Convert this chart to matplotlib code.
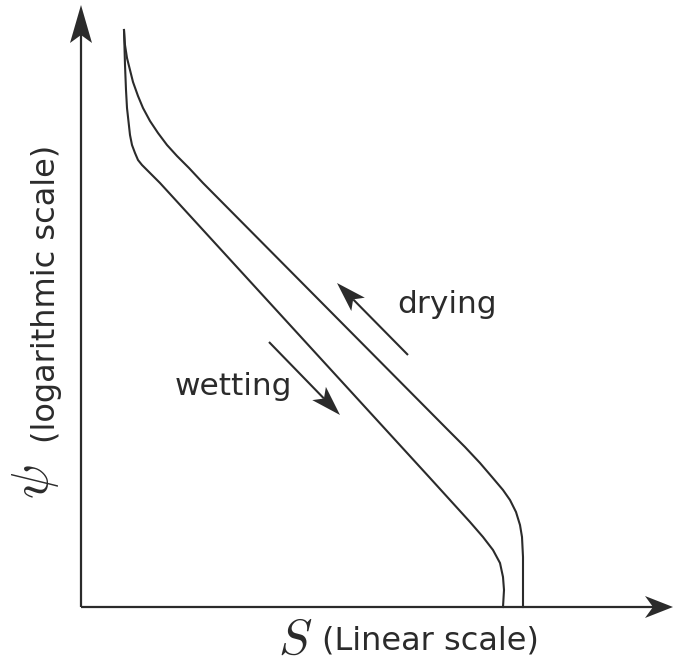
import numpy as np
import matplotlib
matplotlib.use("Agg")
import matplotlib.pyplot as plt
from matplotlib.patches import Polygon

# Schematic water retention curves (units: pixels from the axes origin, psi upwards).
drying_S   = [43, 44, 46, 49, 52, 57, 62, 69, 77, 86, 96, 108, 122, 367, 384, 399, 411, 422, 429, 435, 439, 441, 442, 442]
drying_psi = [577, 562, 549, 537, 525, 511, 499, 486, 474, 462, 451, 439, 424, 177, 160, 144, 130, 117, 107, 95, 82, 70, 50, 0]

wetting_S   = [43, 44, 45, 46, 49, 51, 54, 57, 61, 67, 79, 349, 369, 389, 402, 412, 419, 422, 423, 422]
wetting_psi = [577, 542, 517, 499, 472, 462, 454, 447, 442, 436, 424, 129, 107, 85, 70, 57, 44, 30, 17, 0]

# direction arrows (tail, tip)
drying_arrow  = [(327, 252), (256, 324)]
wetting_arrow = [(188, 265), (259, 192)]

labels = {"drying": (316, 294), "wetting": (94, 212)}

INK = "#2b2b2b"
FIG_W, FIG_H = 674, 664
ORIGIN = (81, 607)   # pixel position of the axes corner

plt.rcParams["mathtext.fontset"] = "cm"
plt.rcParams["font.family"] = "DejaVu Sans"

fig = plt.figure(figsize=(FIG_W/100, FIG_H/100), dpi=100)
ax = fig.add_axes([0, 0, 1, 1])
ax.set_xlim(-ORIGIN[0], FIG_W-ORIGIN[0])
ax.set_ylim(-(FIG_H-ORIGIN[1]), ORIGIN[1])
ax.set_axis_off()

def head(tip, tail, length, width, notch):
    tip = np.array(tip, float)
    u = tip-np.array(tail, float)
    u /= np.hypot(*u)
    n = np.array([-u[1], u[0]])
    pts = [tip, tip-length*u+width/2*n, tip-(length-notch)*u, tip-length*u-width/2*n]
    ax.add_patch(Polygon(pts, closed=True, color=INK, lw=0))
    return tip-(length-notch)*u

# axes with arrow heads
end = head((0, 602), (0, 0), 38, 22, 8)
ax.plot([0, 0], [0, end[1]], color=INK, lw=1.6, solid_capstyle="butt")
end = head((592, 0), (0, 0), 28, 22, 8)
ax.plot([0, end[0]], [0, 0], color=INK, lw=1.6, solid_capstyle="butt")

# curves
ax.plot(drying_S, drying_psi, color=INK, lw=1.5, solid_joinstyle="round")
ax.plot(wetting_S, wetting_psi, color=INK, lw=1.5, solid_joinstyle="round")

for tail, tip in (drying_arrow, wetting_arrow):
    end = head(tip, tail, 30, 19, 7)
    ax.plot([tail[0], end[0]], [tail[1], end[1]], color=INK, lw=1.5, solid_capstyle="butt")

for txt, (x, y) in labels.items():
    ax.text(x, y, txt, fontsize=22.5, color=INK, ha="left", va="baseline")

# axis labels
ax.text(231, -47, r"$S$", fontsize=36, color=INK, ha="right", va="baseline")
ax.text(241, -43, "(Linear scale)", fontsize=23, color=INK, ha="left", va="baseline")
ax.text(-33, 125, r"$\psi$", fontsize=37, color=INK, rotation=90,
        rotation_mode="anchor", ha="center", va="baseline")
ax.text(-26, 164, "(logarithmic scale)", fontsize=23, color=INK, rotation=90,
        rotation_mode="anchor", ha="left", va="baseline")

fig.savefig("out.png", dpi=100)
